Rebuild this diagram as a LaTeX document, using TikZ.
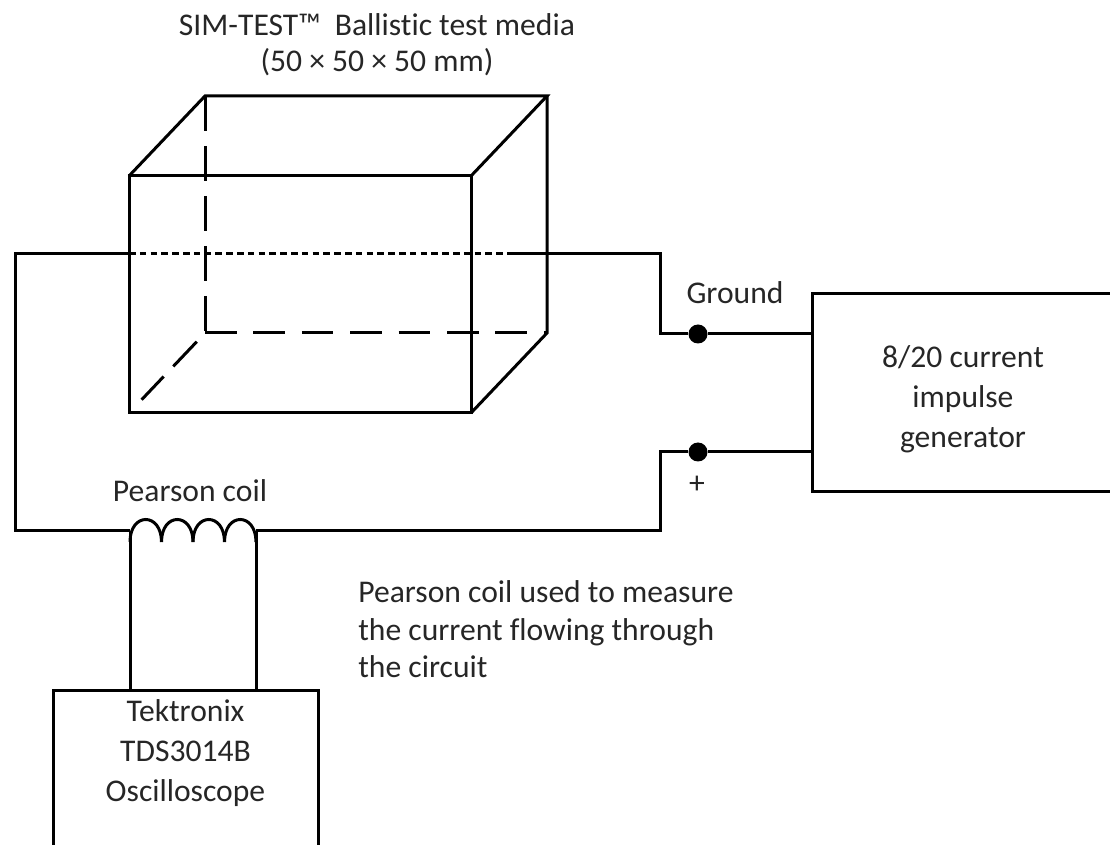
\documentclass[tikz,border=0pt]{standalone}
\usepackage{fontspec}
\setmainfont{Carlito}[Ligatures=NoCommon]
\begin{document}
\begin{tikzpicture}
    [ x=0.5pt, y=-0.5pt
    , wire/.style={line width=1.5pt}
    , edge/.style={line width=1.5pt}
    , hidden/.style={line width=1.5pt, dash pattern=on 15.8pt off 8.4pt}
    , dotline/.style={line width=1.5pt, dash pattern=on 3.3pt off 2.1pt}
    , box/.style={draw, line width=1.5pt, shape=rectangle, inner sep=0pt}
    , dot/.style={circle, fill, inner sep=0pt, minimum size=9.5pt}
    , lbl/.style={inner sep=0pt, text=black!85, font=\fontsize{15.8}{18}\selectfont}
    ]
    \clip (0,0) rectangle (1110,845);
    % cube
    \coordinate (ftl) at (129,176);
    \coordinate (ftr) at (471,176);
    \coordinate (fbr) at (471,413);
    \coordinate (fbl) at (129,413);
    \coordinate (btl) at (205,96);
    \coordinate (btr) at (547,96);
    \coordinate (bbr) at (547,333);
    \coordinate (bbl) at (205,333);
    \draw [edge] (ftl) -- (ftr) -- (fbr) -- (fbl) -- cycle;
    \draw [edge] (ftl) -- (btl) -- (btr) -- (ftr);
    \draw [edge] (btr) -- (bbr) -- (fbr);
    \draw [hidden, dash pattern=on 17.5pt off 7.5pt] (btl) -- (bbl);
    \draw [hidden] (bbl) -- (bbr);
    \draw [hidden, dash pattern=on 0pt off 6pt on 17pt off 7pt on 16pt off 40pt] (bbl) -- (fbl);
    % generator, scope and terminals
    \node [box, minimum width=151pt, minimum height=99pt] (gen) at (963,393) {};
    \node [box, minimum width=132.5pt, minimum height=80pt] (scope) at (185.5,770) {};
    \node [dot] (gnd) at (698,334) {};
    \node [dot] (plus) at (698,452) {};
    % circuit
    \coordinate (wtl) at (15,254);
    \coordinate (wbl) at (15,531);
    \coordinate (wtr) at (660,254);
    \coordinate (wbr) at (660,531);
    \coordinate (wdash) at (508,254);
    \coordinate (coilL) at (130,531);
    \coordinate (coilR) at (256,531);
    \draw [wire] (wdash) -- (wtr) -- (wtr |- gnd) -- (gnd) -- (gnd -| gen.west);
    \draw [wire] (ftl |- wtl) -- (wtl) -- (wbl) -- (coilL);
    \draw [dotline] (ftl |- wtl) -- (wdash);
    \draw [wire] (coilR) -- (wbr) -- (wbr |- plus) -- (plus) -- (plus -| gen.west);
    \foreach \i in {0,...,3}
      \draw [wire] ({130+31.5*\i},542) .. controls ({130+31.5*\i},512) and ({161.5+31.5*\i},512) .. ({161.5+31.5*\i},542);
    \draw [wire] (coilL) -- (coilL |- scope.north);
    \draw [wire] (coilR) -- (coilR |- scope.north);
    % labels
    \node [lbl, align=center] (title) at (377,45) {SIM-TEST™\ \ Ballistic test media\\(50 × 50 × 50 mm)};
    \node [lbl, anchor=base] (gndlbl) at (735,304) {Ground};
    \node [lbl] (pluslbl) at (697,485) {+};
    \node [lbl, align=center, font=\fontsize{15.8}{20}\selectfont] (genlbl) at (963,399) {8/20 current\\impulse\\generator};
    \node [lbl, anchor=base] (coillbl) at (190,502) {Pearson coil};
    \node [lbl, align=left, anchor=west, font=\fontsize{15.8}{18.75}\selectfont] (note) at (358,629.5) {Pearson coil used to measure\\the current flowing through\\the circuit};
    \node [lbl, align=center, font=\fontsize{15.8}{20}\selectfont] (scopelbl) at (185.5,753.5) {Tektronix\\TDS3014B\\Oscilloscope};
\end{tikzpicture}
\end{document}
